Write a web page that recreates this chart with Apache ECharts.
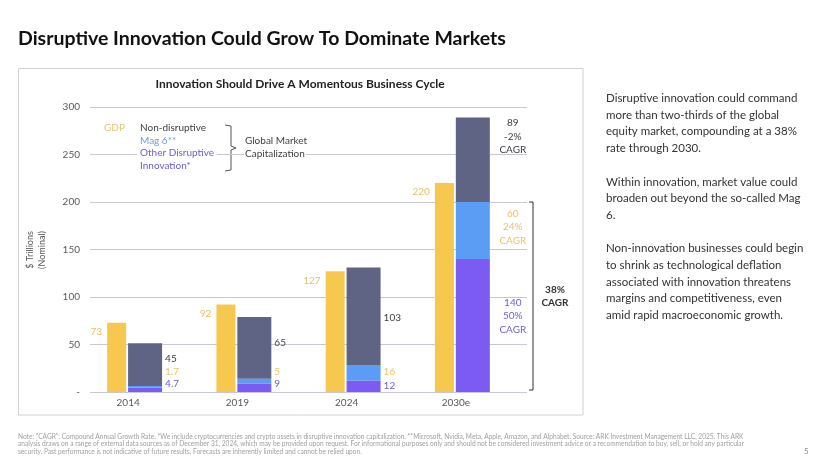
<!DOCTYPE html>
<html>
<head>
<meta charset="utf-8">
<script src="https://cdn.jsdelivr.net/npm/echarts@6/dist/echarts.min.js"></script>
<style>
  html, body { margin: 0; padding: 0; background: #fff; }
  #main { width: 830px; height: 468px; }
</style>
</head>
<body>
<div id="main"></div>
<script>
// 数据
var years = ['2014', '2019', '2024', '2030e'];
var gdp = [73, 92, 127, 220];
var otherDisruptive = [4.7, 9, 12, 140];
var mag6 = [1.7, 5, 16, 60];
var nonDisruptive = [45, 65, 103, 89];
var cagrOther = [null, null, null, '50%'];
var cagrMag6 = [null, null, null, '24%'];
var cagrNon = [null, null, null, '-2%'];
var yTicks = [0, 50, 100, 150, 200, 250, 300];

// 标签的上下偏移 (样式)
var shiftOther = [-6, -4, -1, -9.5];
var shiftMag6 = [-15, -9, -1, -3.5];
var shiftNon = [-6, -5, 1.5, -23];

var FONT = 'Lato';

var myChart = echarts.init(document.getElementById('main'));

function stackData(values, shifts) {
    return values.map(function (v, i) {
        var last = i === values.length - 1;
        return {
            value: v,
            label: {
                offset: [0, shifts[i]],
                distance: last ? 23 : 3,
                align: last ? 'center' : 'left'
            }
        };
    });
}

function stackSeries(name, values, cagr, shifts, color, labelColor) {
    return {
        name: name,
        type: 'bar',
        stack: 'mkt',
        xAxisIndex: 1,
        yAxisIndex: 1,
        barWidth: 34,
        barGap: '10%',
        itemStyle: { color: color },
        label: {
            show: true,
            position: 'right',
            color: labelColor,
            fontFamily: FONT,
            fontSize: 10,
            lineHeight: 13.5,
            formatter: function (p) {
                var c = cagr[p.dataIndex];
                return p.value + (c ? '\n' + c + '\nCAGR' : '');
            }
        },
        data: stackData(values, shifts)
    };
}

var option = {
    animation: false,
    grid: [
        { left: 90, top: 107, width: 437, height: 285 },
        { left: 80, top: 107, width: 437, height: 285 }
    ],
    xAxis: [
        { type: 'category', gridIndex: 0, data: years, show: false },
        {
            type: 'category', gridIndex: 1, data: years,
            axisLine: { show: false },
            axisTick: { show: false },
            axisLabel: {
                color: '#595959', fontFamily: FONT, fontSize: 10, margin: 6,
                padding: [0, 13, 0, 0]
            }
        }
    ],
    yAxis: [
        {
            type: 'value', gridIndex: 0, min: 0, max: 300, interval: 50,
            axisLine: { show: false },
            axisTick: { show: false },
            splitLine: { lineStyle: { color: '#C8C8D2', width: 1 } },
            axisLabel: {
                color: '#595959', fontFamily: FONT, fontSize: 10, margin: 10,
                formatter: function (v) { return v === 0 ? '-' : v; }
            }
        },
        { type: 'value', gridIndex: 1, min: 0, max: 300, show: false }
    ],
    graphic: [
        // 页面标题
        { type: 'text', left: 18, top: 29, style: { text: 'Disruptive Innovation Could Grow To Dominate Markets', fill: '#111', font: 'bold 19.5px ' + FONT } },
        // 图表边框
        { type: 'rect', shape: { x: 18.5, y: 68.5, width: 564.5, height: 346.5 }, style: { fill: 'none', stroke: '#D0D0D8', lineWidth: 1 }, z: -1 },
        { type: 'text', x: 300, y: 84, style: { text: 'Innovation Should Drive A Momentous Business Cycle', fill: '#222', font: 'bold 12px ' + FONT, align: 'center', verticalAlign: 'middle' } },
        // 纵轴名称
        { type: 'text', x: 36, y: 250, rotation: Math.PI / 2, style: { text: '$ Trillions\n(Nominal)', fill: '#595959', font: '9px ' + FONT, align: 'center', verticalAlign: 'middle', lineHeight: 12 } },
        // 图例
        { type: 'text', x: 104, y: 128, style: { text: 'GDP', fill: '#E8C474', font: '10px ' + FONT, verticalAlign: 'middle' } },
        { type: 'text', x: 140, y: 128, style: { text: 'Non-disruptive', fill: '#404040', font: '10px ' + FONT, verticalAlign: 'middle' } },
        { type: 'text', x: 140, y: 140.5, style: { text: 'Mag 6**', fill: '#6D9FD8', font: '10px ' + FONT, verticalAlign: 'middle' } },
        { type: 'text', x: 137, y: 153, z: 10, style: { text: 'Other Disruptive', fill: '#7060C8', font: '10px ' + FONT, verticalAlign: 'middle', backgroundColor: '#fff', padding: [0, 3] } },
        { type: 'text', x: 140, y: 165.5, style: { text: 'Innovation*', fill: '#7060C8', font: '10px ' + FONT, verticalAlign: 'middle' } },
        { type: 'polyline', shape: { points: [[225, 125], [231, 126], [231, 146], [236, 148], [231, 150], [231, 170], [225, 171]] }, style: { stroke: '#555', lineWidth: 1, fill: 'none' } },
        { type: 'text', x: 245, y: 141, style: { text: 'Global Market', fill: '#404040', font: '10px ' + FONT, verticalAlign: 'middle' } },
        { type: 'text', x: 244, y: 154, z: 10, style: { text: 'Capitalization', fill: '#404040', font: '10px ' + FONT, verticalAlign: 'middle', backgroundColor: '#fff', padding: [0, 1] } },
        // 右侧括号
        { type: 'polyline', shape: { points: [[529, 202], [533, 202], [533, 390], [529, 390]] }, style: { stroke: '#333', lineWidth: 1, fill: 'none' } },
        { type: 'text', x: 555, y: 296, style: { text: '38%\nCAGR', fill: '#333', font: 'bold 10px ' + FONT, align: 'center', verticalAlign: 'middle', lineHeight: 13 } },
        // 右侧说明
        { type: 'text', x: 606, y: 90, style: { text: 'Disruptive innovation could command\nmore than two-thirds of the global\nequity market, compounding at a 38%\nrate through 2030.\n\nWithin innovation, market value could\nbroaden out beyond the so-called Mag\n6.\n\nNon-innovation businesses could begin\nto shrink as technological deflation\nassociated with innovation threatens\nmargins and competitiveness, even\namid rapid macroeconomic growth.', fill: '#333', font: '11.5px ' + FONT, lineHeight: 16.7 } },
        // 脚注
        { type: 'text', x: 18, y: 433, style: { text: 'Note: "CAGR": Compound Annual Growth Rate. *We include cryptocurrencies and crypto assets in disruptive innovation capitalization. **Microsoft, Nvidia, Meta, Apple, Amazon, and Alphabet. Source: ARK Investment Management LLC, 2025. This ARK\nanalysis draws on a range of external data sources as of December 31, 2024, which may be provided upon request. For informational purposes only and should not be considered investment advice or a recommendation to buy, sell, or hold any particular\nsecurity. Past performance is not indicative of future results. Forecasts are inherently limited and cannot be relied upon.', fill: '#A0A0A0', font: '6.6px ' + FONT, lineHeight: 7.4 } },
        { type: 'text', x: 804, y: 451, style: { text: '5', fill: '#888', font: '8px ' + FONT, verticalAlign: 'middle' } }
    ],
    series: [
        {
            name: 'GDP',
            type: 'bar',
            xAxisIndex: 1,
            yAxisIndex: 1,
            barWidth: 19,
            barGap: '10%',
            itemStyle: { color: '#F6C94E' },
            label: {
                show: true,
                position: [-5, 4],
                align: 'right',
                verticalAlign: 'top',
                color: '#E8BF62',
                fontFamily: FONT,
                fontSize: 10
            },
            data: gdp
        },
        stackSeries('Other Disruptive Innovation*', otherDisruptive, cagrOther, shiftOther, '#7B5BF2', '#6E62CC'),
        stackSeries('Mag 6**', mag6, cagrMag6, shiftMag6, '#5B9CF5', '#E8C46A'),
        stackSeries('Non-disruptive', nonDisruptive, cagrNon, shiftNon, '#5F6384', '#404040')
    ]
};

myChart.setOption(option);
</script>
</body>
</html>
